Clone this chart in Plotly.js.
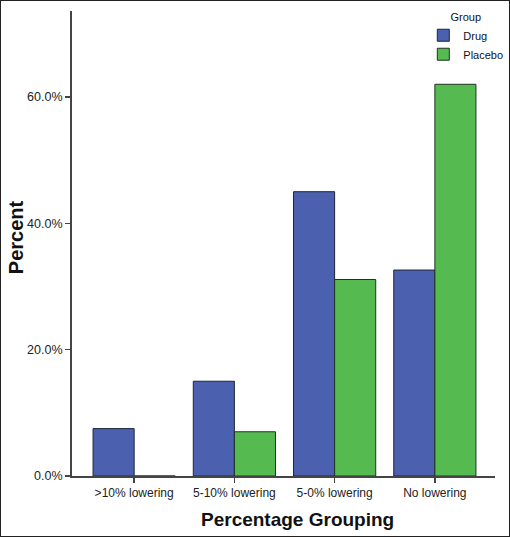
<!DOCTYPE html>
<html>
<head>
<meta charset="utf-8">
<script src="https://cdn.plot.ly/plotly-3.0.1.min.js"></script>
<style>
html,body{margin:0;padding:0;background:#fff;}
#wrap{position:relative;width:510px;height:537px;}
#frame{position:absolute;left:0;top:0;width:510px;height:537px;box-sizing:border-box;border:1.5px solid #222;pointer-events:none;}
</style>
</head>
<body>
<div id="wrap"><div id="chart"></div><div id="frame"></div></div>
<script>
const categories = [">10% lowering", "5-10% lowering", "5-0% lowering", "No lowering"];
const drugValues = [7.5, 15.0, 45.0, 32.6];
const placeboValues = [0, 7.0, 31.1, 62.0];
const yTickVals = [0, 20, 40, 60];
const yTickText = ["0.0%", "20.0%", "40.0%", "60.0%"];

const font = "Liberation Sans, Arial, sans-serif";

const traces = [
  {type: "bar", name: "Drug", x: categories, y: drugValues,
   marker: {color: "#4b60ae", line: {color: "#1f2533", width: 1}}},
  {type: "bar", name: "Placebo", x: categories, y: placeboValues,
   marker: {color: "#55bb51", line: {color: "#1f3320", width: 1}}}
];

const layout = {
  width: 510, height: 537,
  margin: {l: 72, r: 15, t: 11, b: 61, autoexpand: false},
  paper_bgcolor: "#fff", plot_bgcolor: "#fff",
  barmode: "group", bargap: 0.18, bargroupgap: 0,
  font: {family: font, color: "#222", size: 12},
  xaxis: {
    type: "category", range: [-0.62, 3.6],
    showline: true, linecolor: "#444", linewidth: 1.5,
    ticks: "outside", ticklen: 5, tickcolor: "#444", tickwidth: 1.5,
    showgrid: false, zeroline: false,
    tickfont: {size: 12, color: "#222"}
  },
  yaxis: {
    range: [0, 73.6],
    tickvals: yTickVals, ticktext: yTickText,
    showline: true, linecolor: "#444", linewidth: 2,
    ticks: "outside", ticklen: 5, tickcolor: "#444", tickwidth: 1.5,
    showgrid: false, zeroline: false,
    tickfont: {size: 12.5, color: "#222"}
  },
  annotations: [
    {
      text: "Percentage Grouping", xref: "paper", yref: "paper",
      x: 0.532, y: -0.093, xanchor: "center", yanchor: "middle", showarrow: false,
      font: {size: 19, family: font, color: "#111", weight: "bold"}
    },
    {
      text: "Percent", xref: "paper", yref: "paper", textangle: -90,
      x: -0.132, y: 0.514, xanchor: "center", yanchor: "middle", showarrow: false,
      font: {size: 20, family: font, color: "#111", weight: "bold"}
    }
  ],
  showlegend: true,
  legend: {
    xref: "container", yref: "container",
    x: 0.83, y: 0.988, xanchor: "left", yanchor: "top",
    bgcolor: "rgba(255,255,255,0)",
    font: {size: 11, color: "#111"},
    title: {text: "Group", side: "top center", font: {size: 11, color: "#111"}},
    itemwidth: 30, tracegroupgap: 0
  }
};

Plotly.newPlot("chart", traces, layout, {displayModeBar: false, staticPlot: true});
</script>
</body>
</html>
